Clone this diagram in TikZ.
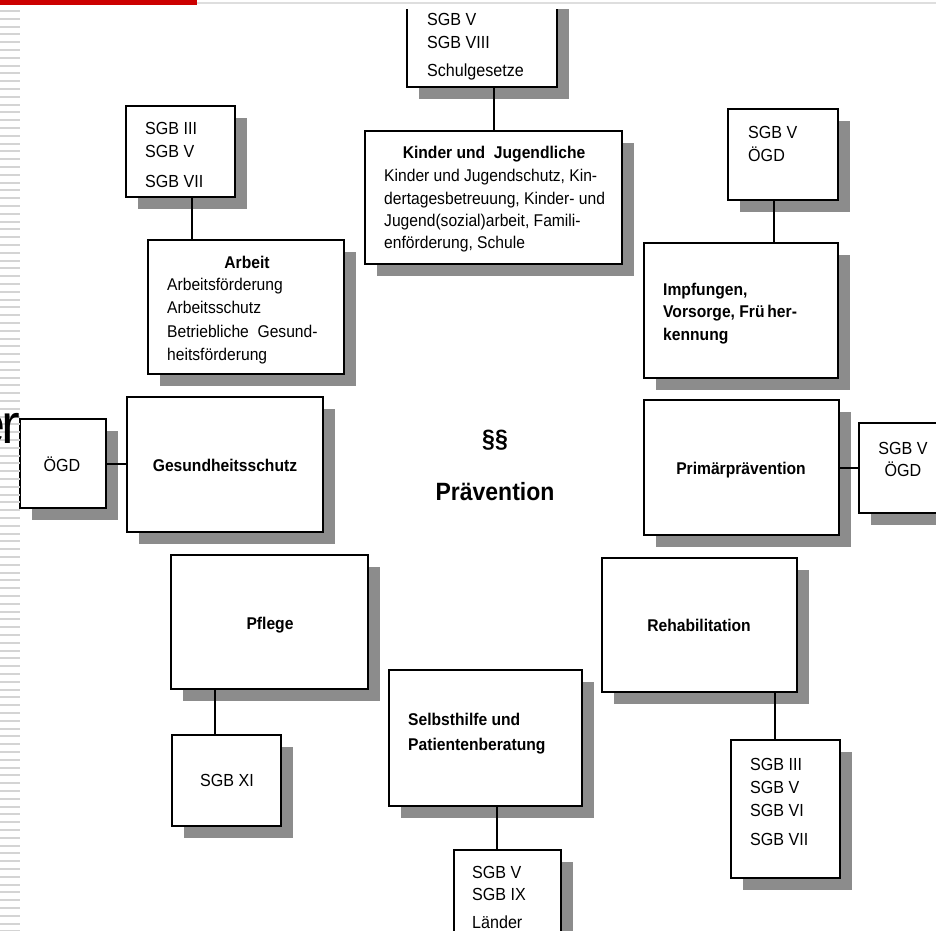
\documentclass[tikz,border=0pt]{standalone}
\usepackage{fontspec}
\setmainfont{Liberation Sans}[FakeStretch=0.92]
\newfontfamily\slidefont{Liberation Sans}
\usetikzlibrary{shadows}
\definecolor{shadegray}{gray}{0.55}
\definecolor{slidered}{RGB}{204,0,0}
\definecolor{stripegray}{gray}{0.83}
\definecolor{topgray}{gray}{0.87}
\begin{document}
\begin{tikzpicture}[x=1pt,y=-1pt,
  box/.style={draw, line width=1.9pt, fill=white, inner sep=0pt, outer sep=0pt,
    drop shadow={shadow xshift=12pt, shadow yshift=-12pt, fill=shadegray, opacity=1}},
  conn/.style={line width=1.9pt},
  sgb/.style={inner sep=0pt, font=\fontsize{17.5}{21}\selectfont},
  txt/.style={inner sep=0pt, font=\fontsize{17}{21}\selectfont},
  btxt/.style={inner sep=0pt, font=\fontsize{17}{21}\selectfont\bfseries},
  big/.style={inner sep=0pt, font=\fontsize{25}{30}\selectfont\bfseries}]
\fill[white] (0,0) rectangle (936,930);
\useasboundingbox (0,0) rectangle (936,930);

\begin{scope}
\clip (19,9) rectangle (936,930);
% boxes
\node[box, minimum width=150pt, minimum height=107pt] (topbox) at (482,33.5) {};
\node[box, minimum width=257pt, minimum height=133pt] (kinder) at (493.5,197.5) {};
\node[box, minimum width=109pt, minimum height=91pt] (sgbA) at (180.5,151.5) {};
\node[box, minimum width=196pt, minimum height=134pt] (arbeit) at (246,307) {};
\node[box, minimum width=110pt, minimum height=91pt] (sgbB) at (783,154.5) {};
\node[box, minimum width=194pt, minimum height=135pt] (impf) at (741,310.5) {};
\node[box, minimum width=86pt, minimum height=89pt] (oegdL) at (63,463.5) {};
\node[box, minimum width=196pt, minimum height=135pt] (gesund) at (225,464.5) {};
\node[box, minimum width=195pt, minimum height=135pt] (prim) at (741.5,467.5) {};
\node[box, minimum width=88pt, minimum height=90pt] (sgbC) at (903,468) {};
\node[box, minimum width=197pt, minimum height=134pt] (pflege) at (269.5,622) {};
\node[box, minimum width=195pt, minimum height=134pt] (rehab) at (699.5,625) {};
\node[box, minimum width=193pt, minimum height=136pt] (selbst) at (485.5,738) {};
\node[box, minimum width=109pt, minimum height=91pt] (sgbXI) at (226.5,780.5) {};
\node[box, minimum width=109pt, minimum height=138pt] (sgbD) at (785.5,809) {};
\node[box, minimum width=107pt, minimum height=110pt] (sgbE) at (507.5,905) {};

% connectors
\draw[conn] (topbox.south -| 494,0) -- (kinder.north -| 494,0);
\draw[conn] (sgbA.south -| 192,0) -- (arbeit.north -| 192,0);
\draw[conn] (sgbB.south -| 774,0) -- (impf.north -| 774,0);
\draw[conn] (oegdL.east |- 0,464) -- (gesund.west |- 0,464);
\draw[conn] (prim.east |- 0,468) -- (sgbC.west |- 0,468);
\draw[conn] (pflege.south -| 215,0) -- (sgbXI.north -| 215,0);
\draw[conn] (rehab.south -| 775,0) -- (sgbD.north -| 775,0);
\draw[conn] (selbst.south -| 497,0) -- (sgbE.north -| 497,0);

% texts: law boxes
\node[sgb, anchor=base west] (t1a) at (427,25) {SGB V};
\node[sgb, anchor=base west] (t1b) at (427,48) {SGB VIII};
\node[sgb, anchor=base west] (t1c) at (427,76) {Schulgesetze};
\node[sgb, anchor=base west] (tAa) at (145,134) {SGB III};
\node[sgb, anchor=base west] (tAb) at (145,157) {SGB V};
\node[sgb, anchor=base west] (tAc) at (145,187) {SGB VII};
\node[sgb, anchor=base west] (tBa) at (748,138) {SGB V};
\node[sgb, anchor=base west] (tBb) at (748,161) {ÖGD};
\node[sgb, anchor=base] (tL) at (62,471) {ÖGD};
\node[sgb, anchor=base] (tCa) at (903,454) {SGB V};
\node[sgb, anchor=base] (tCb) at (903,476) {ÖGD};
\node[sgb, anchor=base] (tXI) at (227,786) {SGB XI};
\node[sgb, anchor=base west] (tDa) at (750,770) {SGB III};
\node[sgb, anchor=base west] (tDb) at (750,793) {SGB V};
\node[sgb, anchor=base west] (tDc) at (750,816) {SGB VI};
\node[sgb, anchor=base west] (tDd) at (750,845) {SGB VII};
\node[sgb, anchor=base west] (tEa) at (472,878) {SGB V};
\node[sgb, anchor=base west] (tEb) at (472,900) {SGB IX};
\node[sgb, anchor=base west] (tEc) at (472,928) {Länder};

% texts: main boxes
\node[btxt, anchor=base] (kt) at (494,158) {Kinder und~~Jugendliche};
\node[txt, anchor=base west] (k1) at (384,181) {Kinder und Jugendschutz, Kin-};
\node[txt, anchor=base west] (k2) at (384,204) {dertagesbetreuung, Kinder- und};
\node[txt, anchor=base west] (k3) at (384,226) {Jugend(sozial)arbeit, Famili-};
\node[txt, anchor=base west] (k4) at (384,248) {enförderung, Schule};

\node[btxt, anchor=base] (at) at (247,268) {Arbeit};
\node[txt, anchor=base west] (a1) at (167,290) {Arbeitsförderung};
\node[txt, anchor=base west] (a2) at (167,313) {Arbeitsschutz};
\node[txt, anchor=base west] (a3) at (167,337) {Betriebliche~~Gesund-};
\node[txt, anchor=base west] (a4) at (167,360) {heitsförderung};

\node[btxt, anchor=base west] (i1) at (663,295) {Impfungen,};
\node[btxt, anchor=base west] (i2) at (663,317) {Vorsorge, Frü\,her-};
\node[btxt, anchor=base west] (i3) at (663,340) {kennung};

\node[btxt, anchor=base] (gt) at (225,471) {Gesundheitsschutz};
\node[btxt, anchor=base] (pt) at (741,474) {Primärprävention};
\node[btxt, anchor=base] (plt) at (270,629) {Pflege};
\node[btxt, anchor=base] (rt) at (699,631) {Rehabilitation};
\node[btxt, anchor=base west] (s1) at (408,725) {Selbsthilfe und};
\node[btxt, anchor=base west] (s2) at (408,750) {Patientenberatung};

\node[big, anchor=base] (para) at (495,447) {§§};
\node[big, anchor=base] (prae) at (495,500) {Prävention};
\end{scope}

% slide decorations
\foreach \i in {0,...,118}
  \fill[stripegray] (0,{10+7.8*\i}) rectangle (20,{12+7.8*\i});
\fill[slidered] (0,0) rectangle (197,5);
\fill[topgray] (197,1.5) rectangle (936,4);
\node[anchor=base east, inner sep=0pt, font=\slidefont\fontsize{56}{60}\selectfont] (er) at (20,443) {e\kern-4pt r};
\end{tikzpicture}
\end{document}
